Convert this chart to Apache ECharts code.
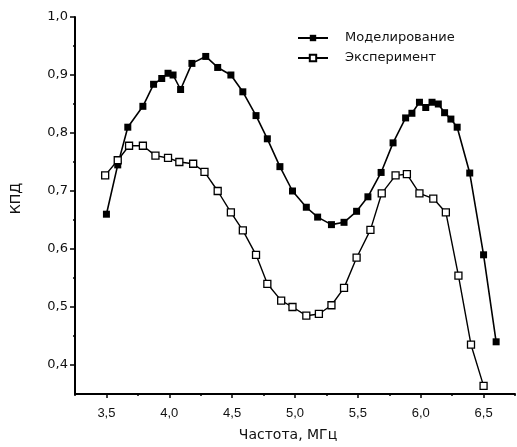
<!DOCTYPE html>
<html>
<head>
<meta charset="utf-8">
<script src="https://cdn.jsdelivr.net/npm/echarts@6/dist/echarts.min.js"></script>
<style>html,body{margin:0;padding:0;background:#fff;}#c{width:517px;height:447px;}</style>
</head>
<body>
<div id="c"></div>
<script>
const seriesNames = ['Моделирование', 'Эксперимент'];
const modelX = [3.5,3.59,3.67,3.79,3.875,3.94,3.99,4.03,4.09,4.18,4.29,4.385,4.49,4.585,4.69,4.78,4.88,4.98,5.09,5.18,5.29,5.39,5.49,5.58,5.685,5.78,5.88,5.93,5.99,6.04,6.09,6.14,6.19,6.24,6.29,6.39,6.5,6.6];
const modelY = [0.66,0.745,0.81,0.846,0.884,0.894,0.903,0.90,0.875,0.92,0.932,0.913,0.90,0.871,0.83,0.79,0.742,0.70,0.672,0.655,0.642,0.646,0.665,0.69,0.732,0.783,0.826,0.834,0.853,0.844,0.853,0.85,0.835,0.824,0.81,0.731,0.59,0.44];
const expX = [3.49,3.59,3.68,3.79,3.89,3.99,4.08,4.19,4.28,4.385,4.49,4.585,4.69,4.78,4.89,4.98,5.09,5.19,5.29,5.39,5.49,5.6,5.69,5.8,5.89,5.99,6.1,6.2,6.3,6.4,6.5];
const expY = [0.727,0.753,0.778,0.778,0.761,0.757,0.75,0.747,0.733,0.70,0.663,0.632,0.59,0.54,0.511,0.50,0.485,0.488,0.503,0.533,0.585,0.633,0.696,0.727,0.729,0.696,0.687,0.663,0.554,0.435,0.364];
const xMajor = [3.5,4.0,4.5,5.0,5.5,6.0,6.5];
const xMinor = [3.25,3.75,4.25,4.75,5.25,5.75,6.25,6.75];
const yMajor = [0.4,0.5,0.6,0.7,0.8,0.9,1.0];
const yMinor = [0.45,0.55,0.65,0.75,0.85,0.95];
const xName = 'Частота, МГц';
const yName = 'КПД';

const pairs = (xs, ys) => xs.map((x, i) => [x, ys[i]]);
const fmt = v => v.toFixed(1).replace('.', ',');
const font = 'DejaVu Sans, Liberation Sans, sans-serif';
const tickFont = 'Liberation Sans, Arial, sans-serif';

const chart = echarts.init(document.getElementById('c'));
chart.setOption({
  animation: false,
  backgroundColor: '#fff',
  grid: { left: 75, right: 2, top: 17, bottom: 50 },
  legend: {
    orient: 'vertical', left: 292, top: 26, itemGap: 6,
    itemWidth: 30, itemHeight: 8,
    textStyle: { fontFamily: font, fontSize: 13, color: '#111', lineHeight: 14, padding: [0, 0, 0, 12] },
    data: seriesNames
  },
  xAxis: [{
    type: 'value', min: 3.25, max: 6.75,
    name: xName, nameLocation: 'middle', nameGap: 34,
    nameTextStyle: { fontFamily: font, fontSize: 14, color: '#111', padding: [0, 14, 0, 0] },
    axisLine: { show: true, lineStyle: { color: '#000', width: 2 } },
    axisTick: { show: true, customValues: xMajor, length: 4, lineStyle: { color: '#000', width: 1.5 } },
    axisLabel: { customValues: xMajor, formatter: fmt, fontFamily: tickFont, fontSize: 13, color: '#111', margin: 13 },
    splitLine: { show: false }
  }, {
    type: 'value', min: 3.25, max: 6.75, position: 'bottom',
    axisLine: { show: false },
    axisTick: { show: true, customValues: xMinor, length: 2, lineStyle: { color: '#000', width: 1.5 } },
    axisLabel: { show: false },
    splitLine: { show: false }
  }],
  yAxis: [{
    type: 'value', min: 0.35, max: 1.0,
    name: yName, nameLocation: 'middle', nameGap: 52, nameRotate: 90,
    nameTextStyle: { fontFamily: font, fontSize: 14, color: '#111', padding: [0, 0, 0, 14] },
    axisLine: { show: true, lineStyle: { color: '#000', width: 2 } },
    axisTick: { show: true, customValues: yMajor, length: 5, lineStyle: { color: '#000', width: 1.5 } },
    axisLabel: { customValues: yMajor, formatter: fmt, fontFamily: font, fontSize: 13, color: '#111', margin: 7 },
    splitLine: { show: false }
  }, {
    type: 'value', min: 0.35, max: 1.0, position: 'left',
    axisLine: { show: false },
    axisTick: { show: true, customValues: yMinor, length: 2, lineStyle: { color: '#000', width: 1.5 } },
    axisLabel: { show: false },
    splitLine: { show: false }
  }],
  series: [{
    name: seriesNames[0], type: 'line', data: pairs(modelX, modelY),
    symbol: 'rect', symbolSize: 7,
    lineStyle: { color: '#000', width: 1.6 },
    itemStyle: { color: '#000' }
  }, {
    name: seriesNames[1], type: 'line', data: pairs(expX, expY),
    symbol: 'rect', symbolSize: 7,
    lineStyle: { color: '#000', width: 1.4 },
    itemStyle: { color: '#fff', borderColor: '#000', borderWidth: 1.3 }
  }]
});
</script>
</body>
</html>
